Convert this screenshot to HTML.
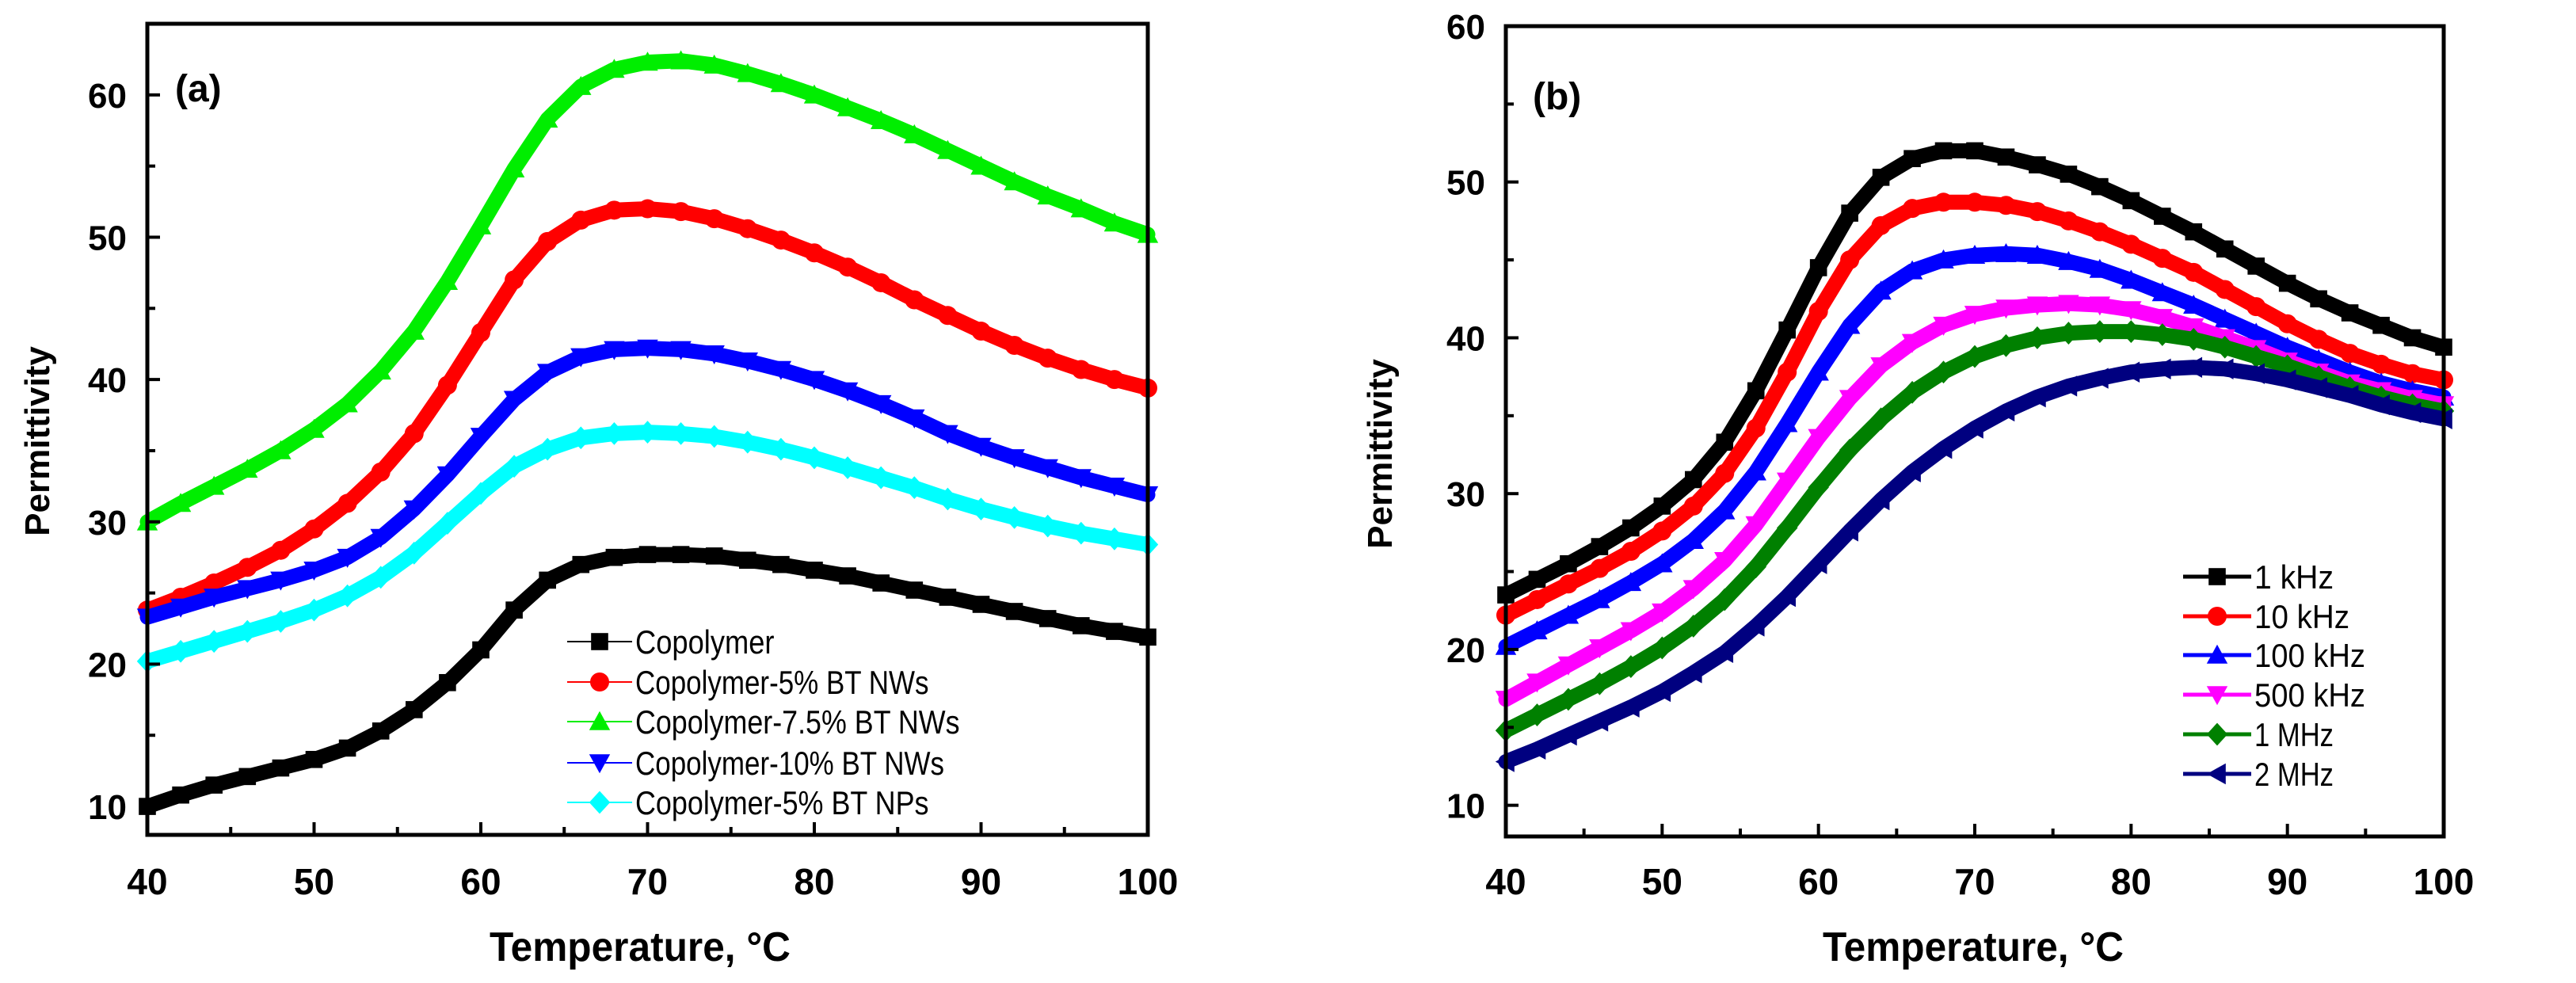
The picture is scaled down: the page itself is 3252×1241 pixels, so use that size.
<!DOCTYPE html>
<html><head><meta charset="utf-8">
<style>
html,body{margin:0;padding:0;background:#fff;overflow:hidden;}
svg{display:block;font-family:"Liberation Sans",Arial,sans-serif;}
</style></head>
<body>
<svg id="chart" width="3252" height="1241" viewBox="0 0 3252 1241" xmlns="http://www.w3.org/2000/svg"></svg>
<script>
const temps = [40,42,44,46,48,50,52,54,56,58,60,62,64,66,68,70,72,74,76,78,80,82,84,86,88,90,92,94,96,98,100];
const xTicks = [40,50,60,70,80,90,100];
const aYTicks = [10,20,30,40,50,60];
const bYTicks = [10,20,30,40,50,60];
const aNames = ["Copolymer","Copolymer-5% BT NWs","Copolymer-7.5% BT NWs","Copolymer-10% BT NWs","Copolymer-5% BT NPs"];
const aCopolymer = [10,10.8,11.5,12.1,12.7,13.3,14.1,15.3,16.8,18.7,21,23.8,25.9,27,27.5,27.7,27.7,27.6,27.3,27,26.6,26.2,25.7,25.2,24.7,24.2,23.7,23.2,22.7,22.3,21.9];
const aNW5 = [23.8,24.7,25.7,26.8,28,29.5,31.3,33.5,36.2,39.6,43.3,47,49.7,51.2,51.9,52,51.8,51.3,50.6,49.8,48.9,47.9,46.8,45.6,44.5,43.4,42.4,41.5,40.7,40,39.4];
const aNW75 = [30,31.3,32.5,33.7,35,36.5,38.3,40.6,43.4,46.9,50.8,54.8,58.3,60.6,61.8,62.3,62.4,62.1,61.5,60.8,60,59.1,58.2,57.2,56.1,55,53.9,52.9,52,51,50.2];
const aNW10 = [23.3,24,24.7,25.3,25.9,26.6,27.5,28.9,30.9,33.3,36,38.6,40.5,41.6,42.1,42.2,42.1,41.8,41.3,40.7,40,39.2,38.3,37.3,36.2,35.3,34.5,33.8,33.1,32.5,31.9];
const aNP5 = [20.2,20.9,21.6,22.3,23,23.8,24.8,26.1,27.8,29.9,32,33.9,35.1,35.9,36.2,36.3,36.2,36,35.6,35.1,34.5,33.8,33.1,32.4,31.6,30.9,30.3,29.7,29.2,28.8,28.4];
const bNames = ["1 kHz","10 kHz","100 kHz","500 kHz","1 MHz","2 MHz"];
const b1k = [23.5,24.5,25.5,26.6,27.8,29.2,30.9,33.3,36.6,40.5,44.5,48,50.3,51.5,52,52,51.6,51.1,50.5,49.7,48.8,47.8,46.8,45.7,44.6,43.5,42.5,41.6,40.8,40,39.4];
const b10k = [22.2,23.2,24.2,25.2,26.3,27.6,29.2,31.3,34.2,37.8,41.7,45,47.2,48.3,48.7,48.7,48.5,48.1,47.5,46.8,46,45.1,44.2,43.1,42,40.9,39.9,39,38.3,37.7,37.3];
const b100k = [20.2,21.2,22.2,23.2,24.3,25.5,27,28.9,31.4,34.5,37.8,40.8,43,44.3,45,45.3,45.4,45.3,44.9,44.4,43.7,42.9,42.1,41.2,40.3,39.4,38.6,37.8,37.1,36.6,36.2];
const b500k = [16.8,17.9,19,20.1,21.2,22.4,23.9,25.7,28,30.8,33.6,36.1,38.2,39.7,40.8,41.5,41.9,42.1,42.2,42.1,41.8,41.3,40.7,40,39.3,38.5,37.8,37.1,36.6,36.1,35.7];
const b1M = [14.8,15.8,16.8,17.8,18.9,20.1,21.5,23.2,25.3,27.8,30.4,32.8,34.8,36.5,37.8,38.8,39.5,40,40.3,40.4,40.4,40.2,39.9,39.4,38.8,38.2,37.5,36.8,36.2,35.7,35.3];
const b2M = [12.8,13.6,14.5,15.4,16.3,17.3,18.5,19.8,21.5,23.4,25.5,27.6,29.6,31.4,32.9,34.2,35.3,36.2,36.9,37.4,37.8,38,38.1,38,37.7,37.3,36.8,36.3,35.7,35.2,34.8];

const NS="http://www.w3.org/2000/svg";
const svg=document.getElementById('chart');
function el(tag,attrs,parent){const e=document.createElementNS(NS,tag);for(const k in attrs)e.setAttribute(k,attrs[k]);(parent||svg).appendChild(e);return e;}

function marker(g,shape,cx,cy,s,color){
  let e;
  if(shape==='sq') e=el('rect',{x:cx-s*0.45,y:cy-s*0.45,width:s*0.9,height:s*0.9,fill:color},g);
  else if(shape==='ci') e=el('circle',{cx:cx,cy:cy,r:s*0.5,fill:color},g);
  else if(shape==='up') e=el('polygon',{points:`${cx},${cy-s*0.55} ${cx+s*0.55},${cy+s*0.45} ${cx-s*0.55},${cy+s*0.45}`,fill:color},g);
  else if(shape==='dn') e=el('polygon',{points:`${cx},${cy+s*0.55} ${cx+s*0.55},${cy-s*0.45} ${cx-s*0.55},${cy-s*0.45}`,fill:color},g);
  else if(shape==='di') e=el('polygon',{points:`${cx},${cy-s*0.6} ${cx+s*0.55},${cy} ${cx},${cy+s*0.6} ${cx-s*0.55},${cy}`,fill:color},g);
  else if(shape==='lt') e=el('polygon',{points:`${cx-s*0.55},${cy} ${cx+s*0.45},${cy-s*0.55} ${cx+s*0.45},${cy+s*0.55}`,fill:color},g);
  return e;
}

function panel(cfg){
  const {L,R,T,B,ymin,ymax,yTicks,series,prefix}=cfg;
  const xs=v=>L+(v-40)/(100-40)*(R-L);
  const ys=v=>B-(v-ymin)/(ymax-ymin)*(B-T);
  const g=el('g',{});
  
  
  series.forEach(s=>{
    const sg=el('g',{},g);
    
    
    const pts=temps.map((t,i)=>xs(t).toFixed(1)+','+ys(s.data[i]).toFixed(1)).join(' ');
    el('polyline',{points:pts,fill:'none',stroke:s.color,'stroke-width':19,'stroke-linejoin':'round','stroke-linecap':'round'},sg);
    temps.forEach((t,i)=>{
      const m=marker(sg,s.shape,xs(t),ys(s.data[i]),24,s.color);
      
      
    });
  });
  const fr=el('rect',{x:L,y:T,width:R-L,height:B-T,fill:'none',stroke:'#000','stroke-width':5},g);
  
  
  for(let v=40;v<=100;v+=5){
    const major=v%10===0;
    el('line',{x1:xs(v),x2:xs(v),y1:B,y2:B-(major?16:10),stroke:'#000','stroke-width':4},g);
  }
  xTicks.forEach(v=>{
    const t=el('text',{x:xs(v),y:1129,'text-anchor':'middle','font-size':46,'font-weight':'bold'},g);
    t.textContent=v;
    
    
  });
  for(let v=10;v<=ymax;v+=5){
    const major=v%10===0;
    el('line',{x1:L,x2:L+(major?16:10),y1:ys(v),y2:ys(v),stroke:'#000','stroke-width':4},g);
  }
  yTicks.forEach(v=>{
    const t=el('text',{x:L-26,y:ys(v)+16,'text-anchor':'end','font-size':44,'font-weight':'bold'},g);
    t.textContent=v;
    
    
  });
  const xt=el('text',{x:cfg.xTitleX-190,y:1213,'font-size':52,'font-weight':'bold',textLength:380,lengthAdjust:'spacingAndGlyphs'},g);
  xt.textContent='Temperature, \u00B0C';
  
  
  const yt=el('text',{x:0,y:0,'text-anchor':'middle','font-size':44,'font-weight':'bold',transform:`translate(${cfg.yTitleX},${cfg.yTitleY}) rotate(-90)`},g);
  yt.textContent='Permittivity';
  
  
  const pl=el('text',{x:cfg.lblX,y:cfg.lblY,'font-size':48,'font-weight':'bold'},g);
  pl.textContent=cfg.label;
  
  
  const lg=el('g',{},g);
  
  
  series.forEach((s,i)=>{
    const y=cfg.legY[i];
    const eg=el('g',{},lg);
    
    
    el('line',{x1:cfg.legX1,x2:cfg.legX2,y1:y,y2:y,stroke:s.color,'stroke-width':cfg.legLineW},eg);
    marker(eg,s.shape,(cfg.legX1+cfg.legX2)/2,y,24,s.color);
    const t=el('text',{x:cfg.legX2+4,y:y+15,'font-size':42,textLength:s.name.length*cfg.charW,lengthAdjust:'spacingAndGlyphs'},eg);
    t.textContent=s.name;
  });
}

panel({prefix:'panel-a',L:186,R:1449,T:30,B:1054,ymin:8,ymax:65,yTicks:aYTicks,
  xTitleX:808,yTitleX:62,yTitleY:557,lblX:221,lblY:128,label:'(a)',
  legX1:716,legX2:798,legY:[810,861,911,963,1013],legLineW:2,charW:19.5,
  series:[
    {key:'copolymer',name:aNames[0],data:aCopolymer,color:'#000000',shape:'sq'},
    {key:'5-nw',name:aNames[1],data:aNW5,color:'#ff0000',shape:'ci'},
    {key:'7-5-nw',name:aNames[2],data:aNW75,color:'#00ee00',shape:'up'},
    {key:'10-nw',name:aNames[3],data:aNW10,color:'#0000ff',shape:'dn'},
    {key:'5-np',name:aNames[4],data:aNP5,color:'#00ffff',shape:'di'}
  ]});
panel({prefix:'panel-b',L:1901,R:3085,T:33,B:1056,ymin:8,ymax:60,yTicks:bYTicks,
  xTitleX:2491,yTitleX:1757,yTitleY:573,lblX:1935,lblY:138,label:'(b)',
  legX1:2756,legX2:2842,legY:[728,778,827,877,927,977],legLineW:5,charW:20,
  series:[
    {key:'1khz',name:bNames[0],data:b1k,color:'#000000',shape:'sq'},
    {key:'10khz',name:bNames[1],data:b10k,color:'#ff0000',shape:'ci'},
    {key:'100khz',name:bNames[2],data:b100k,color:'#0000ff',shape:'up'},
    {key:'500khz',name:bNames[3],data:b500k,color:'#ff00ff',shape:'dn'},
    {key:'1mhz',name:bNames[4],data:b1M,color:'#008000',shape:'di'},
    {key:'2mhz',name:bNames[5],data:b2M,color:'#000080',shape:'lt'}
  ]});
</script>
</body></html>
